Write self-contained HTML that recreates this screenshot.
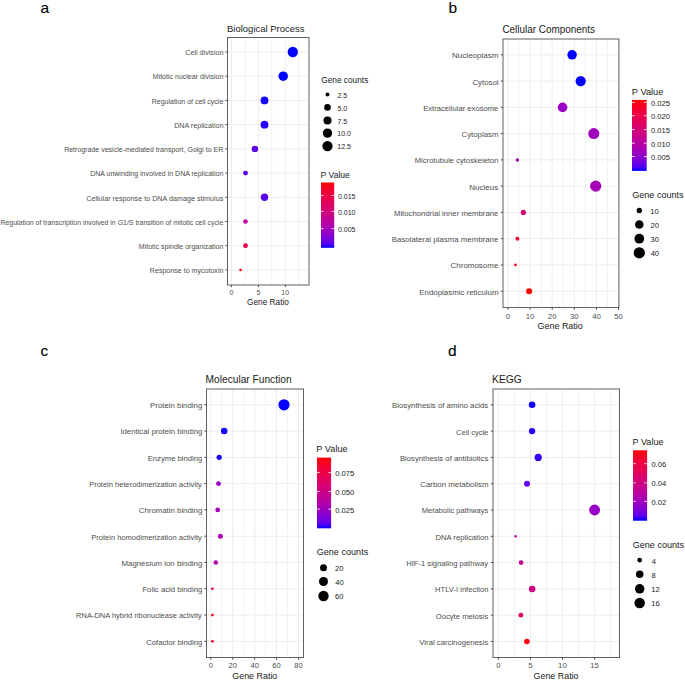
<!DOCTYPE html>
<html><head><meta charset="utf-8"><style>
html,body{margin:0;padding:0;background:#fff;}
svg{display:block;font-family:"Liberation Sans", sans-serif;}
</style></head><body>
<svg width="685" height="680" viewBox="0 0 685 680">
<rect width="685" height="680" fill="#fff"/>
<line x1="244.88" y1="37.5" x2="244.88" y2="285" stroke="#F1F1F1" stroke-width="1"/>
<line x1="271.82" y1="37.5" x2="271.82" y2="285" stroke="#F1F1F1" stroke-width="1"/>
<line x1="298.77" y1="37.5" x2="298.77" y2="285" stroke="#F1F1F1" stroke-width="1"/>
<line x1="231.40" y1="37.5" x2="231.40" y2="285" stroke="#EDEDED" stroke-width="1"/>
<line x1="258.35" y1="37.5" x2="258.35" y2="285" stroke="#EDEDED" stroke-width="1"/>
<line x1="285.30" y1="37.5" x2="285.30" y2="285" stroke="#EDEDED" stroke-width="1"/>
<line x1="227.5" y1="52.00" x2="309" y2="52.00" stroke="#EDEDED" stroke-width="1"/>
<line x1="227.5" y1="76.22" x2="309" y2="76.22" stroke="#EDEDED" stroke-width="1"/>
<line x1="227.5" y1="100.44" x2="309" y2="100.44" stroke="#EDEDED" stroke-width="1"/>
<line x1="227.5" y1="124.66" x2="309" y2="124.66" stroke="#EDEDED" stroke-width="1"/>
<line x1="227.5" y1="148.88" x2="309" y2="148.88" stroke="#EDEDED" stroke-width="1"/>
<line x1="227.5" y1="173.10" x2="309" y2="173.10" stroke="#EDEDED" stroke-width="1"/>
<line x1="227.5" y1="197.32" x2="309" y2="197.32" stroke="#EDEDED" stroke-width="1"/>
<line x1="227.5" y1="221.54" x2="309" y2="221.54" stroke="#EDEDED" stroke-width="1"/>
<line x1="227.5" y1="245.76" x2="309" y2="245.76" stroke="#EDEDED" stroke-width="1"/>
<line x1="227.5" y1="269.98" x2="309" y2="269.98" stroke="#EDEDED" stroke-width="1"/>
<circle cx="292.8" cy="52.00" r="5.15" fill="#0000FF"/>
<circle cx="283.2" cy="76.22" r="4.75" fill="#0000FF"/>
<circle cx="264.5" cy="100.44" r="3.90" fill="#1400FE"/>
<circle cx="264.5" cy="124.66" r="3.90" fill="#2800FB"/>
<circle cx="254.9" cy="148.88" r="3.20" fill="#5800EE"/>
<circle cx="245.5" cy="173.10" r="2.45" fill="#5800EE"/>
<circle cx="264.5" cy="197.32" r="3.70" fill="#5800EE"/>
<circle cx="245.5" cy="221.54" r="2.30" fill="#BD009B"/>
<circle cx="245.5" cy="245.76" r="2.40" fill="#E9004D"/>
<circle cx="240.5" cy="269.98" r="1.30" fill="#FD000D"/>
<rect x="227.5" y="37.5" width="81.50" height="247.50" fill="none" stroke="#606060" stroke-width="1"/>
<line x1="225.30" y1="52.00" x2="227.5" y2="52.00" stroke="#4a4a4a" stroke-width="1"/>
<text x="185.34" y="55.20" font-size="7.3839999999999995" fill="#4D4D4D" textLength="38.09" lengthAdjust="spacingAndGlyphs">Cell division</text>
<line x1="225.30" y1="76.22" x2="227.5" y2="76.22" stroke="#4a4a4a" stroke-width="1"/>
<text x="152.74" y="79.41" font-size="7.3839999999999995" fill="#4D4D4D" textLength="70.68" lengthAdjust="spacingAndGlyphs">Mitotic nuclear division</text>
<line x1="225.30" y1="100.44" x2="227.5" y2="100.44" stroke="#4a4a4a" stroke-width="1"/>
<text x="151.74" y="103.63" font-size="7.3839999999999995" fill="#4D4D4D" textLength="71.56" lengthAdjust="spacingAndGlyphs">Regulation of cell cycle</text>
<line x1="225.30" y1="124.66" x2="227.5" y2="124.66" stroke="#4a4a4a" stroke-width="1"/>
<text x="174.13" y="127.85" font-size="7.3839999999999995" fill="#4D4D4D" textLength="49.32" lengthAdjust="spacingAndGlyphs">DNA replication</text>
<line x1="225.30" y1="148.88" x2="227.5" y2="148.88" stroke="#4a4a4a" stroke-width="1"/>
<text x="64.14" y="152.07" font-size="7.3839999999999995" fill="#4D4D4D" textLength="159.20" lengthAdjust="spacingAndGlyphs">Retrograde vesicle-mediated transport, Golgi to ER</text>
<line x1="225.30" y1="173.10" x2="227.5" y2="173.10" stroke="#4a4a4a" stroke-width="1"/>
<text x="90.14" y="176.29" font-size="7.3839999999999995" fill="#4D4D4D" textLength="133.29" lengthAdjust="spacingAndGlyphs">DNA unwinding involved in DNA replication</text>
<line x1="225.30" y1="197.32" x2="227.5" y2="197.32" stroke="#4a4a4a" stroke-width="1"/>
<text x="86.24" y="200.51" font-size="7.3839999999999995" fill="#4D4D4D" textLength="137.01" lengthAdjust="spacingAndGlyphs">Cellular response to DNA damage stimulus</text>
<line x1="225.30" y1="221.54" x2="227.5" y2="221.54" stroke="#4a4a4a" stroke-width="1"/>
<text x="0.45" y="224.73" font-size="7.3839999999999995" fill="#4D4D4D" textLength="222.84" lengthAdjust="spacingAndGlyphs">Regulation of transcription involved in G1/S transition of mitotic cell cycle</text>
<line x1="225.30" y1="245.76" x2="227.5" y2="245.76" stroke="#4a4a4a" stroke-width="1"/>
<text x="138.84" y="248.95" font-size="7.3839999999999995" fill="#4D4D4D" textLength="84.60" lengthAdjust="spacingAndGlyphs">Mitotic spindle organization</text>
<line x1="225.30" y1="269.98" x2="227.5" y2="269.98" stroke="#4a4a4a" stroke-width="1"/>
<text x="149.83" y="273.18" font-size="7.3839999999999995" fill="#4D4D4D" textLength="73.59" lengthAdjust="spacingAndGlyphs">Response to mycotoxin</text>
<line x1="231.40" y1="285" x2="231.40" y2="287.20" stroke="#4a4a4a" stroke-width="1"/>
<text x="229.45" y="294.90" font-size="7.23" fill="#4D4D4D" textLength="3.87" lengthAdjust="spacingAndGlyphs">0</text>
<line x1="258.35" y1="285" x2="258.35" y2="287.20" stroke="#4a4a4a" stroke-width="1"/>
<text x="256.42" y="294.90" font-size="7.23" fill="#4D4D4D" textLength="3.87" lengthAdjust="spacingAndGlyphs">5</text>
<line x1="285.30" y1="285" x2="285.30" y2="287.20" stroke="#4a4a4a" stroke-width="1"/>
<text x="281.30" y="294.90" font-size="7.23" fill="#4D4D4D" textLength="7.73" lengthAdjust="spacingAndGlyphs">10</text>
<text x="246.99" y="304.50" font-size="8.4" fill="#1A1A1A" textLength="41.94" lengthAdjust="spacingAndGlyphs">Gene Ratio</text>
<text x="227.04" y="32.00" font-size="9.8" fill="#1A1A1A" textLength="77.50" lengthAdjust="spacingAndGlyphs">Biological Process</text>
<text x="40.60" y="13.00" font-size="15.5" fill="#000" text-anchor="start" stroke="#000" stroke-width="0.1">a</text>
<text x="320.61" y="177.60" font-size="8.5" fill="#1A1A1A" textLength="29.23" lengthAdjust="spacingAndGlyphs">P Value</text>
<defs><linearGradient id="ga" x1="0" y1="0" x2="0" y2="1"><stop offset="0.00" stop-color="#FF0000"/><stop offset="0.05" stop-color="#FB001A"/><stop offset="0.10" stop-color="#F6002A"/><stop offset="0.15" stop-color="#F20037"/><stop offset="0.20" stop-color="#ED0044"/><stop offset="0.25" stop-color="#E80050"/><stop offset="0.30" stop-color="#E3005B"/><stop offset="0.35" stop-color="#DD0066"/><stop offset="0.40" stop-color="#D70072"/><stop offset="0.45" stop-color="#D1007D"/><stop offset="0.50" stop-color="#CA0088"/><stop offset="0.55" stop-color="#C20094"/><stop offset="0.60" stop-color="#BA009F"/><stop offset="0.65" stop-color="#B000AB"/><stop offset="0.70" stop-color="#A600B7"/><stop offset="0.75" stop-color="#9A00C3"/><stop offset="0.80" stop-color="#8D00CE"/><stop offset="0.85" stop-color="#7C00DA"/><stop offset="0.90" stop-color="#6800E7"/><stop offset="0.95" stop-color="#4B00F3"/><stop offset="1.00" stop-color="#0000FF"/></linearGradient></defs>
<rect x="321" y="182.5" width="13.20" height="65.30" fill="url(#ga)"/>
<line x1="321" y1="195.5" x2="323.64" y2="195.5" stroke="#fff" stroke-width="0.8"/>
<line x1="331.56" y1="195.5" x2="334.2" y2="195.5" stroke="#fff" stroke-width="0.8"/>
<text x="337.92" y="198.65" font-size="7.28" fill="#1A1A1A" textLength="17.52" lengthAdjust="spacingAndGlyphs">0.015</text>
<line x1="321" y1="211.4" x2="323.64" y2="211.4" stroke="#fff" stroke-width="0.8"/>
<line x1="331.56" y1="211.4" x2="334.2" y2="211.4" stroke="#fff" stroke-width="0.8"/>
<text x="337.92" y="214.55" font-size="7.28" fill="#1A1A1A" textLength="17.52" lengthAdjust="spacingAndGlyphs">0.010</text>
<line x1="321" y1="228.6" x2="323.64" y2="228.6" stroke="#fff" stroke-width="0.8"/>
<line x1="331.56" y1="228.6" x2="334.2" y2="228.6" stroke="#fff" stroke-width="0.8"/>
<text x="337.92" y="231.75" font-size="7.28" fill="#1A1A1A" textLength="17.52" lengthAdjust="spacingAndGlyphs">0.005</text>
<text x="321.29" y="82.60" font-size="8.5" fill="#1A1A1A" textLength="47.01" lengthAdjust="spacingAndGlyphs">Gene counts</text>
<circle cx="327.5" cy="94.4" r="2.00" fill="#000"/>
<text x="337.45" y="97.55" font-size="7.28" fill="#1A1A1A" textLength="9.73" lengthAdjust="spacingAndGlyphs">2.5</text>
<circle cx="327.5" cy="107.4" r="3.30" fill="#000"/>
<text x="337.52" y="110.55" font-size="7.28" fill="#1A1A1A" textLength="9.73" lengthAdjust="spacingAndGlyphs">5.0</text>
<circle cx="327.5" cy="120.4" r="4.00" fill="#000"/>
<text x="337.45" y="123.55" font-size="7.28" fill="#1A1A1A" textLength="9.73" lengthAdjust="spacingAndGlyphs">7.5</text>
<circle cx="327.5" cy="133.1" r="4.70" fill="#000"/>
<text x="337.28" y="136.25" font-size="7.28" fill="#1A1A1A" textLength="13.62" lengthAdjust="spacingAndGlyphs">10.0</text>
<circle cx="327.5" cy="146.1" r="5.15" fill="#000"/>
<text x="337.28" y="149.25" font-size="7.28" fill="#1A1A1A" textLength="13.62" lengthAdjust="spacingAndGlyphs">12.5</text>
<line x1="519.05" y1="39" x2="519.05" y2="307.5" stroke="#F1F1F1" stroke-width="1"/>
<line x1="541.15" y1="39" x2="541.15" y2="307.5" stroke="#F1F1F1" stroke-width="1"/>
<line x1="563.25" y1="39" x2="563.25" y2="307.5" stroke="#F1F1F1" stroke-width="1"/>
<line x1="585.35" y1="39" x2="585.35" y2="307.5" stroke="#F1F1F1" stroke-width="1"/>
<line x1="607.45" y1="39" x2="607.45" y2="307.5" stroke="#F1F1F1" stroke-width="1"/>
<line x1="508.00" y1="39" x2="508.00" y2="307.5" stroke="#EDEDED" stroke-width="1"/>
<line x1="530.10" y1="39" x2="530.10" y2="307.5" stroke="#EDEDED" stroke-width="1"/>
<line x1="552.20" y1="39" x2="552.20" y2="307.5" stroke="#EDEDED" stroke-width="1"/>
<line x1="574.30" y1="39" x2="574.30" y2="307.5" stroke="#EDEDED" stroke-width="1"/>
<line x1="596.40" y1="39" x2="596.40" y2="307.5" stroke="#EDEDED" stroke-width="1"/>
<line x1="618.50" y1="39" x2="618.50" y2="307.5" stroke="#EDEDED" stroke-width="1"/>
<line x1="503" y1="54.80" x2="618.9" y2="54.80" stroke="#EDEDED" stroke-width="1"/>
<line x1="503" y1="81.07" x2="618.9" y2="81.07" stroke="#EDEDED" stroke-width="1"/>
<line x1="503" y1="107.34" x2="618.9" y2="107.34" stroke="#EDEDED" stroke-width="1"/>
<line x1="503" y1="133.61" x2="618.9" y2="133.61" stroke="#EDEDED" stroke-width="1"/>
<line x1="503" y1="159.88" x2="618.9" y2="159.88" stroke="#EDEDED" stroke-width="1"/>
<line x1="503" y1="186.15" x2="618.9" y2="186.15" stroke="#EDEDED" stroke-width="1"/>
<line x1="503" y1="212.42" x2="618.9" y2="212.42" stroke="#EDEDED" stroke-width="1"/>
<line x1="503" y1="238.69" x2="618.9" y2="238.69" stroke="#EDEDED" stroke-width="1"/>
<line x1="503" y1="264.96" x2="618.9" y2="264.96" stroke="#EDEDED" stroke-width="1"/>
<line x1="503" y1="291.23" x2="618.9" y2="291.23" stroke="#EDEDED" stroke-width="1"/>
<circle cx="572.1" cy="54.80" r="4.75" fill="#0000FF"/>
<circle cx="580.7" cy="81.07" r="5.15" fill="#0000FF"/>
<circle cx="562.6" cy="107.34" r="4.80" fill="#9A00C3"/>
<circle cx="593.8" cy="133.61" r="5.50" fill="#9F00BE"/>
<circle cx="517.4" cy="159.88" r="1.75" fill="#A400B9"/>
<circle cx="595.7" cy="186.15" r="5.60" fill="#A600B7"/>
<circle cx="523.4" cy="212.42" r="2.60" fill="#D40076"/>
<circle cx="517.4" cy="238.69" r="1.95" fill="#F40032"/>
<circle cx="515.5" cy="264.96" r="1.35" fill="#F80024"/>
<circle cx="529.1" cy="291.23" r="3.05" fill="#FF0000"/>
<rect x="503" y="39" width="115.90" height="268.50" fill="none" stroke="#606060" stroke-width="1"/>
<line x1="500.80" y1="54.80" x2="503" y2="54.80" stroke="#4a4a4a" stroke-width="1"/>
<text x="452.06" y="58.29" font-size="8.06" fill="#4D4D4D" textLength="46.47" lengthAdjust="spacingAndGlyphs">Nucleoplasm</text>
<line x1="500.80" y1="81.07" x2="503" y2="81.07" stroke="#4a4a4a" stroke-width="1"/>
<text x="472.41" y="84.56" font-size="8.06" fill="#4D4D4D" textLength="26.14" lengthAdjust="spacingAndGlyphs">Cytosol</text>
<line x1="500.80" y1="107.34" x2="503" y2="107.34" stroke="#4a4a4a" stroke-width="1"/>
<text x="423.19" y="110.83" font-size="8.06" fill="#4D4D4D" textLength="75.14" lengthAdjust="spacingAndGlyphs">Extracellular exosome</text>
<line x1="500.80" y1="133.61" x2="503" y2="133.61" stroke="#4a4a4a" stroke-width="1"/>
<text x="461.51" y="137.10" font-size="8.06" fill="#4D4D4D" textLength="36.99" lengthAdjust="spacingAndGlyphs">Cytoplasm</text>
<line x1="500.80" y1="159.88" x2="503" y2="159.88" stroke="#4a4a4a" stroke-width="1"/>
<text x="414.79" y="163.37" font-size="8.06" fill="#4D4D4D" textLength="83.67" lengthAdjust="spacingAndGlyphs">Microtubule cytoskeleton</text>
<line x1="500.80" y1="186.15" x2="503" y2="186.15" stroke="#4a4a4a" stroke-width="1"/>
<text x="469.16" y="189.64" font-size="8.06" fill="#4D4D4D" textLength="29.11" lengthAdjust="spacingAndGlyphs">Nucleus</text>
<line x1="500.80" y1="212.42" x2="503" y2="212.42" stroke="#4a4a4a" stroke-width="1"/>
<text x="393.98" y="215.91" font-size="8.06" fill="#4D4D4D" textLength="104.34" lengthAdjust="spacingAndGlyphs">Mitochondrial inner membrane</text>
<line x1="500.80" y1="238.69" x2="503" y2="238.69" stroke="#4a4a4a" stroke-width="1"/>
<text x="391.77" y="242.18" font-size="8.06" fill="#4D4D4D" textLength="106.56" lengthAdjust="spacingAndGlyphs">Basolateral plasma membrane</text>
<line x1="500.80" y1="264.96" x2="503" y2="264.96" stroke="#4a4a4a" stroke-width="1"/>
<text x="450.60" y="268.45" font-size="8.06" fill="#4D4D4D" textLength="47.73" lengthAdjust="spacingAndGlyphs">Chromosome</text>
<line x1="500.80" y1="291.23" x2="503" y2="291.23" stroke="#4a4a4a" stroke-width="1"/>
<text x="419.37" y="294.72" font-size="8.06" fill="#4D4D4D" textLength="79.14" lengthAdjust="spacingAndGlyphs">Endoplasmic reticulum</text>
<line x1="508.00" y1="307.5" x2="508.00" y2="309.70" stroke="#4a4a4a" stroke-width="1"/>
<text x="505.83" y="318.60" font-size="8.06" fill="#4D4D4D" textLength="4.31" lengthAdjust="spacingAndGlyphs">0</text>
<line x1="530.10" y1="307.5" x2="530.10" y2="309.70" stroke="#4a4a4a" stroke-width="1"/>
<text x="525.64" y="318.60" font-size="8.06" fill="#4D4D4D" textLength="8.62" lengthAdjust="spacingAndGlyphs">10</text>
<line x1="552.20" y1="307.5" x2="552.20" y2="309.70" stroke="#4a4a4a" stroke-width="1"/>
<text x="547.84" y="318.60" font-size="8.06" fill="#4D4D4D" textLength="8.62" lengthAdjust="spacingAndGlyphs">20</text>
<line x1="574.30" y1="307.5" x2="574.30" y2="309.70" stroke="#4a4a4a" stroke-width="1"/>
<text x="570.00" y="318.60" font-size="8.06" fill="#4D4D4D" textLength="8.62" lengthAdjust="spacingAndGlyphs">30</text>
<line x1="596.40" y1="307.5" x2="596.40" y2="309.70" stroke="#4a4a4a" stroke-width="1"/>
<text x="592.16" y="318.60" font-size="8.06" fill="#4D4D4D" textLength="8.62" lengthAdjust="spacingAndGlyphs">40</text>
<line x1="618.50" y1="307.5" x2="618.50" y2="309.70" stroke="#4a4a4a" stroke-width="1"/>
<text x="614.18" y="318.60" font-size="8.06" fill="#4D4D4D" textLength="8.62" lengthAdjust="spacingAndGlyphs">50</text>
<text x="537.45" y="329.20" font-size="9.1" fill="#1A1A1A" textLength="45.40" lengthAdjust="spacingAndGlyphs">Gene Ratio</text>
<text x="502.40" y="32.60" font-size="10.2" fill="#1A1A1A" textLength="92.63" lengthAdjust="spacingAndGlyphs">Cellular Components</text>
<text x="448.40" y="13.00" font-size="15.5" fill="#000" text-anchor="start" stroke="#000" stroke-width="0.1">b</text>
<text x="631.86" y="95.40" font-size="9.1" fill="#1A1A1A" textLength="31.51" lengthAdjust="spacingAndGlyphs">P Value</text>
<defs><linearGradient id="gb" x1="0" y1="0" x2="0" y2="1"><stop offset="0.00" stop-color="#FF0000"/><stop offset="0.05" stop-color="#FB001A"/><stop offset="0.10" stop-color="#F6002A"/><stop offset="0.15" stop-color="#F20037"/><stop offset="0.20" stop-color="#ED0044"/><stop offset="0.25" stop-color="#E80050"/><stop offset="0.30" stop-color="#E3005B"/><stop offset="0.35" stop-color="#DD0066"/><stop offset="0.40" stop-color="#D70072"/><stop offset="0.45" stop-color="#D1007D"/><stop offset="0.50" stop-color="#CA0088"/><stop offset="0.55" stop-color="#C20094"/><stop offset="0.60" stop-color="#BA009F"/><stop offset="0.65" stop-color="#B000AB"/><stop offset="0.70" stop-color="#A600B7"/><stop offset="0.75" stop-color="#9A00C3"/><stop offset="0.80" stop-color="#8D00CE"/><stop offset="0.85" stop-color="#7C00DA"/><stop offset="0.90" stop-color="#6800E7"/><stop offset="0.95" stop-color="#4B00F3"/><stop offset="1.00" stop-color="#0000FF"/></linearGradient></defs>
<rect x="632" y="99.9" width="14.70" height="71.00" fill="url(#gb)"/>
<line x1="632" y1="102.4" x2="634.94" y2="102.4" stroke="#fff" stroke-width="0.8"/>
<line x1="643.76" y1="102.4" x2="646.7" y2="102.4" stroke="#fff" stroke-width="0.8"/>
<text x="650.90" y="105.82" font-size="7.90" fill="#1A1A1A" textLength="19.02" lengthAdjust="spacingAndGlyphs">0.025</text>
<line x1="632" y1="115.7" x2="634.94" y2="115.7" stroke="#fff" stroke-width="0.8"/>
<line x1="643.76" y1="115.7" x2="646.7" y2="115.7" stroke="#fff" stroke-width="0.8"/>
<text x="650.90" y="119.12" font-size="7.90" fill="#1A1A1A" textLength="19.02" lengthAdjust="spacingAndGlyphs">0.020</text>
<line x1="632" y1="129.6" x2="634.94" y2="129.6" stroke="#fff" stroke-width="0.8"/>
<line x1="643.76" y1="129.6" x2="646.7" y2="129.6" stroke="#fff" stroke-width="0.8"/>
<text x="650.90" y="133.02" font-size="7.90" fill="#1A1A1A" textLength="19.02" lengthAdjust="spacingAndGlyphs">0.015</text>
<line x1="632" y1="143.2" x2="634.94" y2="143.2" stroke="#fff" stroke-width="0.8"/>
<line x1="643.76" y1="143.2" x2="646.7" y2="143.2" stroke="#fff" stroke-width="0.8"/>
<text x="650.90" y="146.62" font-size="7.90" fill="#1A1A1A" textLength="19.02" lengthAdjust="spacingAndGlyphs">0.010</text>
<line x1="632" y1="156.5" x2="634.94" y2="156.5" stroke="#fff" stroke-width="0.8"/>
<line x1="643.76" y1="156.5" x2="646.7" y2="156.5" stroke="#fff" stroke-width="0.8"/>
<text x="650.90" y="159.92" font-size="7.90" fill="#1A1A1A" textLength="19.02" lengthAdjust="spacingAndGlyphs">0.005</text>
<text x="632.25" y="197.90" font-size="9.1" fill="#1A1A1A" textLength="51.37" lengthAdjust="spacingAndGlyphs">Gene counts</text>
<circle cx="639.3" cy="210.5" r="2.65" fill="#000"/>
<text x="650.23" y="213.92" font-size="7.90" fill="#1A1A1A" textLength="8.45" lengthAdjust="spacingAndGlyphs">10</text>
<circle cx="639.3" cy="224.5" r="4.25" fill="#000"/>
<text x="650.42" y="227.92" font-size="7.90" fill="#1A1A1A" textLength="8.45" lengthAdjust="spacingAndGlyphs">20</text>
<circle cx="639.3" cy="238.7" r="4.85" fill="#000"/>
<text x="650.53" y="242.12" font-size="7.90" fill="#1A1A1A" textLength="8.45" lengthAdjust="spacingAndGlyphs">30</text>
<circle cx="639.3" cy="252.8" r="5.65" fill="#000"/>
<text x="650.65" y="256.22" font-size="7.90" fill="#1A1A1A" textLength="8.45" lengthAdjust="spacingAndGlyphs">40</text>
<line x1="221.76" y1="389" x2="221.76" y2="657.5" stroke="#F1F1F1" stroke-width="1"/>
<line x1="243.68" y1="389" x2="243.68" y2="657.5" stroke="#F1F1F1" stroke-width="1"/>
<line x1="265.60" y1="389" x2="265.60" y2="657.5" stroke="#F1F1F1" stroke-width="1"/>
<line x1="287.52" y1="389" x2="287.52" y2="657.5" stroke="#F1F1F1" stroke-width="1"/>
<line x1="210.80" y1="389" x2="210.80" y2="657.5" stroke="#EDEDED" stroke-width="1"/>
<line x1="232.72" y1="389" x2="232.72" y2="657.5" stroke="#EDEDED" stroke-width="1"/>
<line x1="254.64" y1="389" x2="254.64" y2="657.5" stroke="#EDEDED" stroke-width="1"/>
<line x1="276.56" y1="389" x2="276.56" y2="657.5" stroke="#EDEDED" stroke-width="1"/>
<line x1="298.48" y1="389" x2="298.48" y2="657.5" stroke="#EDEDED" stroke-width="1"/>
<line x1="206.5" y1="404.80" x2="303.5" y2="404.80" stroke="#EDEDED" stroke-width="1"/>
<line x1="206.5" y1="431.08" x2="303.5" y2="431.08" stroke="#EDEDED" stroke-width="1"/>
<line x1="206.5" y1="457.36" x2="303.5" y2="457.36" stroke="#EDEDED" stroke-width="1"/>
<line x1="206.5" y1="483.64" x2="303.5" y2="483.64" stroke="#EDEDED" stroke-width="1"/>
<line x1="206.5" y1="509.92" x2="303.5" y2="509.92" stroke="#EDEDED" stroke-width="1"/>
<line x1="206.5" y1="536.20" x2="303.5" y2="536.20" stroke="#EDEDED" stroke-width="1"/>
<line x1="206.5" y1="562.48" x2="303.5" y2="562.48" stroke="#EDEDED" stroke-width="1"/>
<line x1="206.5" y1="588.76" x2="303.5" y2="588.76" stroke="#EDEDED" stroke-width="1"/>
<line x1="206.5" y1="615.04" x2="303.5" y2="615.04" stroke="#EDEDED" stroke-width="1"/>
<line x1="206.5" y1="641.32" x2="303.5" y2="641.32" stroke="#EDEDED" stroke-width="1"/>
<circle cx="284" cy="404.80" r="5.60" fill="#0000FF"/>
<circle cx="224.2" cy="431.08" r="3.25" fill="#1400FE"/>
<circle cx="219.2" cy="457.36" r="2.60" fill="#1400FE"/>
<circle cx="218.5" cy="483.64" r="2.40" fill="#9800C5"/>
<circle cx="217.7" cy="509.92" r="2.35" fill="#A600B7"/>
<circle cx="220.4" cy="536.20" r="2.50" fill="#AC00B0"/>
<circle cx="215.8" cy="562.48" r="2.30" fill="#B000AB"/>
<circle cx="212.4" cy="588.76" r="1.35" fill="#ED0044"/>
<circle cx="212.4" cy="615.04" r="1.35" fill="#FB001A"/>
<circle cx="212.4" cy="641.32" r="1.35" fill="#FD000D"/>
<rect x="206.5" y="389" width="97.00" height="268.50" fill="none" stroke="#606060" stroke-width="1"/>
<line x1="204.30" y1="404.80" x2="206.5" y2="404.80" stroke="#4a4a4a" stroke-width="1"/>
<text x="150.07" y="408.20" font-size="7.852" fill="#4D4D4D" textLength="52.21" lengthAdjust="spacingAndGlyphs">Protein binding</text>
<line x1="204.30" y1="431.08" x2="206.5" y2="431.08" stroke="#4a4a4a" stroke-width="1"/>
<text x="120.40" y="434.48" font-size="7.852" fill="#4D4D4D" textLength="81.89" lengthAdjust="spacingAndGlyphs">Identical protein binding</text>
<line x1="204.30" y1="457.36" x2="206.5" y2="457.36" stroke="#4a4a4a" stroke-width="1"/>
<text x="147.69" y="460.76" font-size="7.852" fill="#4D4D4D" textLength="54.58" lengthAdjust="spacingAndGlyphs">Enzyme binding</text>
<line x1="204.30" y1="483.64" x2="206.5" y2="483.64" stroke="#4a4a4a" stroke-width="1"/>
<text x="89.20" y="487.04" font-size="7.852" fill="#4D4D4D" textLength="112.62" lengthAdjust="spacingAndGlyphs">Protein heterodimerization activity</text>
<line x1="204.30" y1="509.92" x2="206.5" y2="509.92" stroke="#4a4a4a" stroke-width="1"/>
<text x="138.81" y="513.32" font-size="7.852" fill="#4D4D4D" textLength="63.47" lengthAdjust="spacingAndGlyphs">Chromatin binding</text>
<line x1="204.30" y1="536.20" x2="206.5" y2="536.20" stroke="#4a4a4a" stroke-width="1"/>
<text x="91.20" y="539.60" font-size="7.852" fill="#4D4D4D" textLength="110.59" lengthAdjust="spacingAndGlyphs">Protein homodimerization activity</text>
<line x1="204.30" y1="562.48" x2="206.5" y2="562.48" stroke="#4a4a4a" stroke-width="1"/>
<text x="121.47" y="565.88" font-size="7.852" fill="#4D4D4D" textLength="80.80" lengthAdjust="spacingAndGlyphs">Magnesium ion binding</text>
<line x1="204.30" y1="588.76" x2="206.5" y2="588.76" stroke="#4a4a4a" stroke-width="1"/>
<text x="142.38" y="592.16" font-size="7.852" fill="#4D4D4D" textLength="59.90" lengthAdjust="spacingAndGlyphs">Folic acid binding</text>
<line x1="204.30" y1="615.04" x2="206.5" y2="615.04" stroke="#4a4a4a" stroke-width="1"/>
<text x="76.10" y="618.44" font-size="7.852" fill="#4D4D4D" textLength="125.70" lengthAdjust="spacingAndGlyphs">RNA-DNA hybrid ribonuclease activity</text>
<line x1="204.30" y1="641.32" x2="206.5" y2="641.32" stroke="#4a4a4a" stroke-width="1"/>
<text x="146.22" y="644.72" font-size="7.852" fill="#4D4D4D" textLength="56.07" lengthAdjust="spacingAndGlyphs">Cofactor binding</text>
<line x1="210.80" y1="657.5" x2="210.80" y2="659.70" stroke="#4a4a4a" stroke-width="1"/>
<text x="208.69" y="668.40" font-size="7.85" fill="#4D4D4D" textLength="4.20" lengthAdjust="spacingAndGlyphs">0</text>
<line x1="232.72" y1="657.5" x2="232.72" y2="659.70" stroke="#4a4a4a" stroke-width="1"/>
<text x="228.47" y="668.40" font-size="7.85" fill="#4D4D4D" textLength="8.40" lengthAdjust="spacingAndGlyphs">20</text>
<line x1="254.64" y1="657.5" x2="254.64" y2="659.70" stroke="#4a4a4a" stroke-width="1"/>
<text x="250.51" y="668.40" font-size="7.85" fill="#4D4D4D" textLength="8.40" lengthAdjust="spacingAndGlyphs">40</text>
<line x1="276.56" y1="657.5" x2="276.56" y2="659.70" stroke="#4a4a4a" stroke-width="1"/>
<text x="272.31" y="668.40" font-size="7.85" fill="#4D4D4D" textLength="8.40" lengthAdjust="spacingAndGlyphs">60</text>
<line x1="298.48" y1="657.5" x2="298.48" y2="659.70" stroke="#4a4a4a" stroke-width="1"/>
<text x="294.27" y="668.40" font-size="7.85" fill="#4D4D4D" textLength="8.40" lengthAdjust="spacingAndGlyphs">80</text>
<text x="232.25" y="678.60" font-size="9.1" fill="#1A1A1A" textLength="45.09" lengthAdjust="spacingAndGlyphs">Gene Ratio</text>
<text x="205.59" y="382.90" font-size="10.2" fill="#1A1A1A" textLength="86.06" lengthAdjust="spacingAndGlyphs">Molecular Function</text>
<text x="40.60" y="356.00" font-size="15.5" fill="#000" text-anchor="start" stroke="#000" stroke-width="0.1">c</text>
<text x="316.26" y="452.10" font-size="9.1" fill="#1A1A1A" textLength="31.51" lengthAdjust="spacingAndGlyphs">P Value</text>
<defs><linearGradient id="gc" x1="0" y1="0" x2="0" y2="1"><stop offset="0.00" stop-color="#FF0000"/><stop offset="0.05" stop-color="#FB001A"/><stop offset="0.10" stop-color="#F6002A"/><stop offset="0.15" stop-color="#F20037"/><stop offset="0.20" stop-color="#ED0044"/><stop offset="0.25" stop-color="#E80050"/><stop offset="0.30" stop-color="#E3005B"/><stop offset="0.35" stop-color="#DD0066"/><stop offset="0.40" stop-color="#D70072"/><stop offset="0.45" stop-color="#D1007D"/><stop offset="0.50" stop-color="#CA0088"/><stop offset="0.55" stop-color="#C20094"/><stop offset="0.60" stop-color="#BA009F"/><stop offset="0.65" stop-color="#B000AB"/><stop offset="0.70" stop-color="#A600B7"/><stop offset="0.75" stop-color="#9A00C3"/><stop offset="0.80" stop-color="#8D00CE"/><stop offset="0.85" stop-color="#7C00DA"/><stop offset="0.90" stop-color="#6800E7"/><stop offset="0.95" stop-color="#4B00F3"/><stop offset="1.00" stop-color="#0000FF"/></linearGradient></defs>
<rect x="317" y="457.6" width="14.10" height="70.70" fill="url(#gc)"/>
<line x1="317" y1="472.6" x2="319.82" y2="472.6" stroke="#fff" stroke-width="0.8"/>
<line x1="328.28" y1="472.6" x2="331.1" y2="472.6" stroke="#fff" stroke-width="0.8"/>
<text x="335.20" y="476.02" font-size="7.90" fill="#1A1A1A" textLength="19.02" lengthAdjust="spacingAndGlyphs">0.075</text>
<line x1="317" y1="491.5" x2="319.82" y2="491.5" stroke="#fff" stroke-width="0.8"/>
<line x1="328.28" y1="491.5" x2="331.1" y2="491.5" stroke="#fff" stroke-width="0.8"/>
<text x="335.20" y="494.92" font-size="7.90" fill="#1A1A1A" textLength="19.02" lengthAdjust="spacingAndGlyphs">0.050</text>
<line x1="317" y1="509.1" x2="319.82" y2="509.1" stroke="#fff" stroke-width="0.8"/>
<line x1="328.28" y1="509.1" x2="331.1" y2="509.1" stroke="#fff" stroke-width="0.8"/>
<text x="335.20" y="512.52" font-size="7.90" fill="#1A1A1A" textLength="19.02" lengthAdjust="spacingAndGlyphs">0.025</text>
<text x="316.65" y="555.10" font-size="9.1" fill="#1A1A1A" textLength="51.58" lengthAdjust="spacingAndGlyphs">Gene counts</text>
<circle cx="323.5" cy="567.7" r="3.50" fill="#000"/>
<text x="335.02" y="571.12" font-size="7.90" fill="#1A1A1A" textLength="8.45" lengthAdjust="spacingAndGlyphs">20</text>
<circle cx="323.5" cy="581.5" r="4.50" fill="#000"/>
<text x="335.25" y="584.92" font-size="7.90" fill="#1A1A1A" textLength="8.45" lengthAdjust="spacingAndGlyphs">40</text>
<circle cx="323.5" cy="596" r="5.20" fill="#000"/>
<text x="335.02" y="599.42" font-size="7.90" fill="#1A1A1A" textLength="8.45" lengthAdjust="spacingAndGlyphs">60</text>
<line x1="514.43" y1="389" x2="514.43" y2="657.5" stroke="#F1F1F1" stroke-width="1"/>
<line x1="546.50" y1="389" x2="546.50" y2="657.5" stroke="#F1F1F1" stroke-width="1"/>
<line x1="578.56" y1="389" x2="578.56" y2="657.5" stroke="#F1F1F1" stroke-width="1"/>
<line x1="610.63" y1="389" x2="610.63" y2="657.5" stroke="#F1F1F1" stroke-width="1"/>
<line x1="498.40" y1="389" x2="498.40" y2="657.5" stroke="#EDEDED" stroke-width="1"/>
<line x1="530.46" y1="389" x2="530.46" y2="657.5" stroke="#EDEDED" stroke-width="1"/>
<line x1="562.53" y1="389" x2="562.53" y2="657.5" stroke="#EDEDED" stroke-width="1"/>
<line x1="594.60" y1="389" x2="594.60" y2="657.5" stroke="#EDEDED" stroke-width="1"/>
<line x1="493" y1="404.80" x2="619.5" y2="404.80" stroke="#EDEDED" stroke-width="1"/>
<line x1="493" y1="431.10" x2="619.5" y2="431.10" stroke="#EDEDED" stroke-width="1"/>
<line x1="493" y1="457.40" x2="619.5" y2="457.40" stroke="#EDEDED" stroke-width="1"/>
<line x1="493" y1="483.70" x2="619.5" y2="483.70" stroke="#EDEDED" stroke-width="1"/>
<line x1="493" y1="510.00" x2="619.5" y2="510.00" stroke="#EDEDED" stroke-width="1"/>
<line x1="493" y1="536.30" x2="619.5" y2="536.30" stroke="#EDEDED" stroke-width="1"/>
<line x1="493" y1="562.60" x2="619.5" y2="562.60" stroke="#EDEDED" stroke-width="1"/>
<line x1="493" y1="588.90" x2="619.5" y2="588.90" stroke="#EDEDED" stroke-width="1"/>
<line x1="493" y1="615.20" x2="619.5" y2="615.20" stroke="#EDEDED" stroke-width="1"/>
<line x1="493" y1="641.50" x2="619.5" y2="641.50" stroke="#EDEDED" stroke-width="1"/>
<circle cx="532.1" cy="404.80" r="3.30" fill="#1400FE"/>
<circle cx="532.1" cy="431.10" r="3.20" fill="#2800FB"/>
<circle cx="538.2" cy="457.40" r="3.60" fill="#3A00F8"/>
<circle cx="527" cy="483.70" r="2.95" fill="#6300E9"/>
<circle cx="594.6" cy="510.00" r="5.45" fill="#9800C5"/>
<circle cx="515.6" cy="536.30" r="1.20" fill="#B600A4"/>
<circle cx="521.1" cy="562.60" r="2.35" fill="#C30092"/>
<circle cx="532.2" cy="588.90" r="3.25" fill="#CE0082"/>
<circle cx="520.9" cy="615.20" r="2.40" fill="#DE0064"/>
<circle cx="526.9" cy="641.50" r="2.80" fill="#FC0012"/>
<rect x="493" y="389" width="126.50" height="268.50" fill="none" stroke="#606060" stroke-width="1"/>
<line x1="490.80" y1="404.80" x2="493" y2="404.80" stroke="#4a4a4a" stroke-width="1"/>
<text x="391.98" y="408.26" font-size="8.008000000000001" fill="#4D4D4D" textLength="96.29" lengthAdjust="spacingAndGlyphs">Biosynthesis of amino acids</text>
<line x1="490.80" y1="431.10" x2="493" y2="431.10" stroke="#4a4a4a" stroke-width="1"/>
<text x="456.12" y="434.56" font-size="8.008000000000001" fill="#4D4D4D" textLength="32.17" lengthAdjust="spacingAndGlyphs">Cell cycle</text>
<line x1="490.80" y1="457.40" x2="493" y2="457.40" stroke="#4a4a4a" stroke-width="1"/>
<text x="399.88" y="460.87" font-size="8.008000000000001" fill="#4D4D4D" textLength="88.39" lengthAdjust="spacingAndGlyphs">Biosynthesis of antibiotics</text>
<line x1="490.80" y1="483.70" x2="493" y2="483.70" stroke="#4a4a4a" stroke-width="1"/>
<text x="420.31" y="487.17" font-size="8.008000000000001" fill="#4D4D4D" textLength="68.17" lengthAdjust="spacingAndGlyphs">Carbon metabolism</text>
<line x1="490.80" y1="510.00" x2="493" y2="510.00" stroke="#4a4a4a" stroke-width="1"/>
<text x="421.79" y="513.47" font-size="8.008000000000001" fill="#4D4D4D" textLength="66.49" lengthAdjust="spacingAndGlyphs">Metabolic pathways</text>
<line x1="490.80" y1="536.30" x2="493" y2="536.30" stroke="#4a4a4a" stroke-width="1"/>
<text x="435.38" y="539.76" font-size="8.008000000000001" fill="#4D4D4D" textLength="53.10" lengthAdjust="spacingAndGlyphs">DNA replication</text>
<line x1="490.80" y1="562.60" x2="493" y2="562.60" stroke="#4a4a4a" stroke-width="1"/>
<text x="406.19" y="566.07" font-size="8.008000000000001" fill="#4D4D4D" textLength="81.79" lengthAdjust="spacingAndGlyphs">HIF-1 signaling pathway</text>
<line x1="490.80" y1="588.90" x2="493" y2="588.90" stroke="#4a4a4a" stroke-width="1"/>
<text x="435.09" y="592.37" font-size="8.008000000000001" fill="#4D4D4D" textLength="53.36" lengthAdjust="spacingAndGlyphs">HTLV-I infection</text>
<line x1="490.80" y1="615.20" x2="493" y2="615.20" stroke="#4a4a4a" stroke-width="1"/>
<text x="435.65" y="618.67" font-size="8.008000000000001" fill="#4D4D4D" textLength="52.62" lengthAdjust="spacingAndGlyphs">Oocyte meiosis</text>
<line x1="490.80" y1="641.50" x2="493" y2="641.50" stroke="#4a4a4a" stroke-width="1"/>
<text x="419.36" y="644.97" font-size="8.008000000000001" fill="#4D4D4D" textLength="68.92" lengthAdjust="spacingAndGlyphs">Viral carcinogenesis</text>
<line x1="498.40" y1="657.5" x2="498.40" y2="659.70" stroke="#4a4a4a" stroke-width="1"/>
<text x="496.24" y="668.40" font-size="8.01" fill="#4D4D4D" textLength="4.28" lengthAdjust="spacingAndGlyphs">0</text>
<line x1="530.46" y1="657.5" x2="530.46" y2="659.70" stroke="#4a4a4a" stroke-width="1"/>
<text x="528.33" y="668.40" font-size="8.01" fill="#4D4D4D" textLength="4.28" lengthAdjust="spacingAndGlyphs">5</text>
<line x1="562.53" y1="657.5" x2="562.53" y2="659.70" stroke="#4a4a4a" stroke-width="1"/>
<text x="558.10" y="668.40" font-size="8.01" fill="#4D4D4D" textLength="8.57" lengthAdjust="spacingAndGlyphs">10</text>
<line x1="594.60" y1="657.5" x2="594.60" y2="659.70" stroke="#4a4a4a" stroke-width="1"/>
<text x="590.19" y="668.40" font-size="8.01" fill="#4D4D4D" textLength="8.57" lengthAdjust="spacingAndGlyphs">15</text>
<text x="533.56" y="678.60" font-size="9.1" fill="#1A1A1A" textLength="44.99" lengthAdjust="spacingAndGlyphs">Gene Ratio</text>
<text x="492.08" y="382.90" font-size="10.2" fill="#1A1A1A" textLength="29.79" lengthAdjust="spacingAndGlyphs">KEGG</text>
<text x="447.90" y="356.00" font-size="15.5" fill="#000" text-anchor="start" stroke="#000" stroke-width="0.1">d</text>
<text x="632.57" y="445.20" font-size="9.1" fill="#1A1A1A" textLength="30.99" lengthAdjust="spacingAndGlyphs">P Value</text>
<defs><linearGradient id="gd" x1="0" y1="0" x2="0" y2="1"><stop offset="0.00" stop-color="#FF0000"/><stop offset="0.05" stop-color="#FB001A"/><stop offset="0.10" stop-color="#F6002A"/><stop offset="0.15" stop-color="#F20037"/><stop offset="0.20" stop-color="#ED0044"/><stop offset="0.25" stop-color="#E80050"/><stop offset="0.30" stop-color="#E3005B"/><stop offset="0.35" stop-color="#DD0066"/><stop offset="0.40" stop-color="#D70072"/><stop offset="0.45" stop-color="#D1007D"/><stop offset="0.50" stop-color="#CA0088"/><stop offset="0.55" stop-color="#C20094"/><stop offset="0.60" stop-color="#BA009F"/><stop offset="0.65" stop-color="#B000AB"/><stop offset="0.70" stop-color="#A600B7"/><stop offset="0.75" stop-color="#9A00C3"/><stop offset="0.80" stop-color="#8D00CE"/><stop offset="0.85" stop-color="#7C00DA"/><stop offset="0.90" stop-color="#6800E7"/><stop offset="0.95" stop-color="#4B00F3"/><stop offset="1.00" stop-color="#0000FF"/></linearGradient></defs>
<rect x="633" y="450.3" width="14.10" height="70.40" fill="url(#gd)"/>
<line x1="633" y1="463.7" x2="635.82" y2="463.7" stroke="#fff" stroke-width="0.8"/>
<line x1="644.28" y1="463.7" x2="647.1" y2="463.7" stroke="#fff" stroke-width="0.8"/>
<text x="651.40" y="467.12" font-size="7.90" fill="#1A1A1A" textLength="14.79" lengthAdjust="spacingAndGlyphs">0.06</text>
<line x1="633" y1="482.9" x2="635.82" y2="482.9" stroke="#fff" stroke-width="0.8"/>
<line x1="644.28" y1="482.9" x2="647.1" y2="482.9" stroke="#fff" stroke-width="0.8"/>
<text x="651.40" y="486.32" font-size="7.90" fill="#1A1A1A" textLength="14.79" lengthAdjust="spacingAndGlyphs">0.04</text>
<line x1="633" y1="501.4" x2="635.82" y2="501.4" stroke="#fff" stroke-width="0.8"/>
<line x1="644.28" y1="501.4" x2="647.1" y2="501.4" stroke="#fff" stroke-width="0.8"/>
<text x="651.40" y="504.82" font-size="7.90" fill="#1A1A1A" textLength="14.79" lengthAdjust="spacingAndGlyphs">0.02</text>
<text x="632.75" y="547.90" font-size="9.1" fill="#1A1A1A" textLength="51.37" lengthAdjust="spacingAndGlyphs">Gene counts</text>
<circle cx="639.7" cy="560.1" r="2.45" fill="#000"/>
<text x="651.65" y="563.52" font-size="7.90" fill="#1A1A1A" textLength="4.23" lengthAdjust="spacingAndGlyphs">4</text>
<circle cx="639.7" cy="574.2" r="3.75" fill="#000"/>
<text x="651.50" y="577.62" font-size="7.90" fill="#1A1A1A" textLength="4.23" lengthAdjust="spacingAndGlyphs">8</text>
<circle cx="639.7" cy="588.8" r="4.75" fill="#000"/>
<text x="651.23" y="592.22" font-size="7.90" fill="#1A1A1A" textLength="8.45" lengthAdjust="spacingAndGlyphs">12</text>
<circle cx="639.7" cy="603" r="5.25" fill="#000"/>
<text x="651.23" y="606.42" font-size="7.90" fill="#1A1A1A" textLength="8.45" lengthAdjust="spacingAndGlyphs">16</text>
</svg>
</body></html>
